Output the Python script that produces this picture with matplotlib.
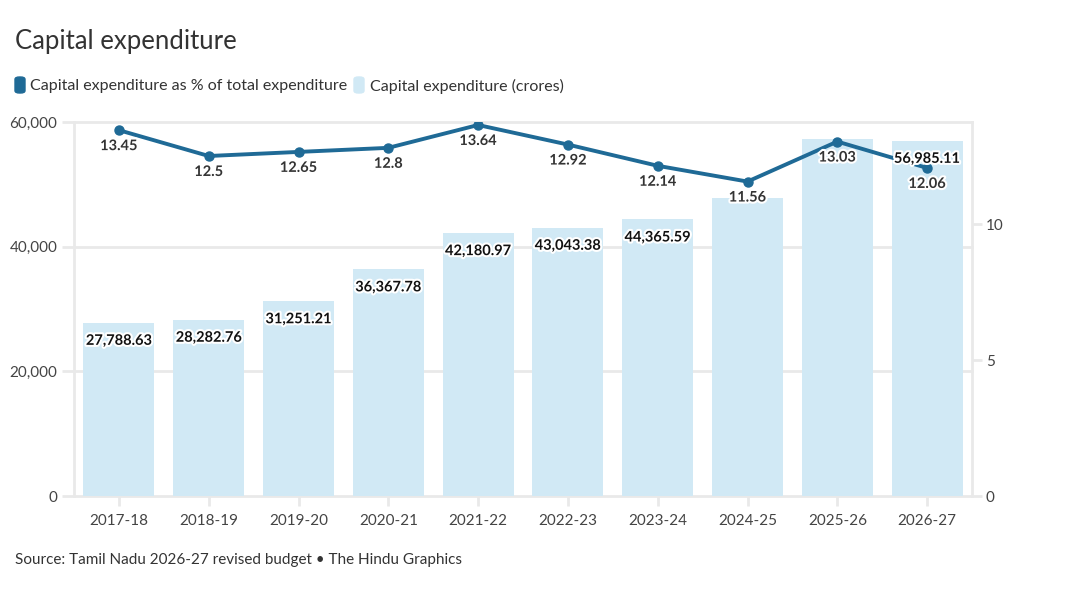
import matplotlib
matplotlib.use("Agg")
import matplotlib.pyplot as plt
import matplotlib.patheffects as pe
from matplotlib.patches import FancyBboxPatch

years = ["2017-18", "2018-19", "2019-20", "2020-21", "2021-22",
         "2022-23", "2023-24", "2024-25", "2025-26", "2026-27"]
capex_crores = [27788.63, 28282.76, 31251.21, 36367.78, 42180.97,
                43043.38, 44365.59, 47800.0, 57250.0, 56985.11]
capex_pct = [13.45, 12.5, 12.65, 12.8, 13.64, 12.92, 12.14, 11.56, 13.03, 12.06]
show_bar_label = [True, True, True, True, True, True, True, False, False, True]
left_ticks = [0, 20000, 40000, 60000]
right_ticks = [0, 5, 10]

FONT = "Lato"
plt.rcParams["font.family"] = [FONT, "DejaVu Sans"]

BAR_C = "#d1e9f5"
LINE_C = "#1f6a96"
GRID_C = "#e9e9e9"
TXT_C = "#444444"

fig = plt.figure(figsize=(10.68, 5.89), dpi=100)
ax = fig.add_axes([74/1068, 1-496/589, (972-74)/1068, (496-122)/589])
ax2 = ax.twinx()

x = list(range(len(years)))
ax.bar(x, capex_crores, width=0.79, color=BAR_C, zorder=2)
ax.set_xlim(-0.5, len(years)-0.5)
ax.set_ylim(0, 60000)
ax.set_yticks(left_ticks)
ax.set_yticklabels([f"{v:,}" for v in left_ticks])
ax.set_xticks(x)
ax.set_xticklabels(years)
for v in left_ticks:
    ax.axhline(v, color=GRID_C, lw=2, zorder=1, clip_on=False)

for s in ["top", "bottom"]:
    ax.spines[s].set_visible(False)
    ax2.spines[s].set_visible(False)
ax.spines["left"].set_color(GRID_C); ax.spines["left"].set_linewidth(2)
ax2.spines["right"].set_color(GRID_C); ax2.spines["right"].set_linewidth(2)
ax2.spines["left"].set_visible(False)
ax.spines["right"].set_visible(False)

ax.tick_params(axis="y", colors=GRID_C, labelcolor=TXT_C, labelsize=11, length=9, width=2, pad=3)
ax.tick_params(axis="x", colors=GRID_C, labelcolor=TXT_C, labelsize=11, length=7, width=2, pad=6)
ax2.tick_params(axis="y", colors=GRID_C, labelcolor=TXT_C, labelsize=11, length=7, width=2, pad=3)

ax2.set_ylim(0, 13.75)
ax2.set_yticks(right_ticks)
ax2.set_yticklabels([str(v) for v in right_ticks])
ax2.plot(x, capex_pct, color=LINE_C, lw=2.8, marker="o", ms=6.5, zorder=5)

stroke = [pe.withStroke(linewidth=3, foreground="white")]
for i, (v, show) in enumerate(zip(capex_crores, show_bar_label)):
    if show:
        ax2.annotate(f"{v:,.2f}", (i, v), xycoords=ax.transData, xytext=(0, -13),
                     textcoords="offset points", ha="center", va="center",
                     fontsize=10.5, fontweight="bold", color="#111111",
                     path_effects=stroke, zorder=8)
for i, v in enumerate(capex_pct):
    ax2.annotate(f"{v:g}", (i, v), xytext=(0, -11.5), textcoords="offset points",
                 ha="center", va="center", fontsize=10.5, fontweight="bold",
                 color="#333333", path_effects=stroke, zorder=7)

ax.set_zorder(1); ax2.set_zorder(2); ax2.patch.set_visible(False)

fig.text(15/1068, 1-42/589, "Capital expenditure", fontsize=18.5, color="#333333",
         ha="left", va="center")
# legend
fig.patches.append(FancyBboxPatch((15/1068, 1-93/589), 10/1068, 16/589,
                   boxstyle="round,pad=0,rounding_size=0.004", transform=fig.transFigure,
                   color=LINE_C, figure=fig))
fig.text(30/1068, 1-86/589, "Capital expenditure as % of total expenditure", fontsize=11.5,
         color="#333333", ha="left", va="center")
fig.patches.append(FancyBboxPatch((354/1068, 1-93/589), 10/1068, 16/589,
                   boxstyle="round,pad=0,rounding_size=0.004", transform=fig.transFigure,
                   color=BAR_C, figure=fig))
fig.text(370/1068, 1-86/589, "Capital expenditure (crores)", fontsize=11.5,
         color="#333333", ha="left", va="center")
fig.text(15/1068, 1-560/589, "Source: Tamil Nadu 2026-27 revised budget \u2022 The Hindu Graphics",
         fontsize=11, color="#333333", ha="left", va="center")

fig.savefig("out.png", dpi=100)
